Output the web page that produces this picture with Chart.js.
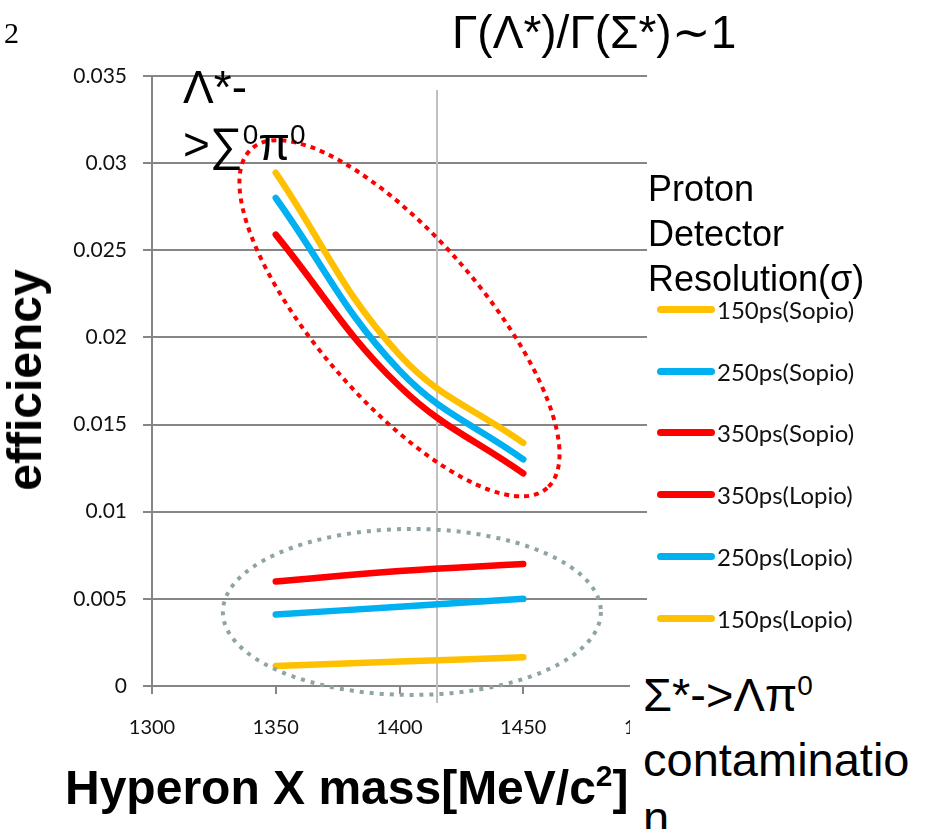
<!DOCTYPE html>
<html>
<head>
<meta charset="utf-8">
<script src="https://cdn.jsdelivr.net/npm/chart.js@4.4.0/dist/chart.umd.min.js"></script>
<style>
body { margin: 0; background: #fff; }
#wrap { position: relative; width: 932px; height: 829px; overflow: hidden; background: #fff; }
#c { position: absolute; left: 0; top: 0; }
.t { position: absolute; font-family: "Liberation Sans", Arial, sans-serif; color: #000; white-space: nowrap; }
.sup { position: relative; font-size: 28px; top: -16px; }
.leg { position: absolute; left: 657px; height: 30px; display: flex; align-items: center; }
.leg i { display: block; width: 58px; height: 7px; border-radius: 3.5px; margin-right: 2px; }
.leg span { font-family: Lato, "Open Sans", sans-serif; font-size: 24px; color: #111; }
</style>
</head>
<body>
<div id="wrap">
  <canvas id="c" width="932" height="829"></canvas>

  <div class="t" style="left:4px;top:18px;font-family:'Liberation Serif',serif;font-size:30px;line-height:30px;">2</div>
  <div class="t" style="left:452px;top:9px;font-size:46px;line-height:46px;">Γ(Λ*)/Γ(Σ*)∼1</div>

  <div class="t" style="left:183px;top:64px;font-size:46px;line-height:46px;">Λ*-</div>
  <div class="t" style="left:183px;top:121px;font-size:46px;line-height:46px;">&gt;∑<span class="sup">0</span>π<span class="sup">0</span></div>

  <div class="t" style="left:25px;top:380px;font-size:48px;line-height:48px;font-weight:bold;transform:translate(-50%,-50%) rotate(-90deg);">efficiency</div>
  <div class="t" style="left:65px;top:764px;font-size:48px;line-height:48px;font-weight:bold;">Hyperon X mass[MeV/c<span style="position:relative;font-size:30px;top:-18px;">2</span>]</div>

  <div class="t" style="left:648px;top:166px;font-size:36px;line-height:45px;">Proton<br>Detector<br>Resolution(σ)</div>
  <div id="legend"></div>

  <div class="t" style="left:630px;top:666px;width:302px;height:163px;background:#fff;padding-left:13px;font-size:47px;line-height:58px;box-sizing:border-box;">Σ*-&gt;Λπ<span class="sup">0</span><br>contaminatio<br>n</div>
</div>

<script>
// hyperon mass points (MeV/c^2)
const masses = [1350, 1400, 1450];

// Lambda* -> Sigma0 pi0 efficiency
const sopio150 = [0.02945, 0.0190, 0.01395];
const sopio250 = [0.0280, 0.0181, 0.0130];
const sopio350 = [0.0259, 0.0172, 0.0122];

// Sigma* -> Lambda pi0 contamination
const lopio350 = [0.0060, 0.0066, 0.0070];
const lopio250 = [0.0041, 0.00455, 0.0050];
const lopio150 = [0.00115, 0.0014, 0.00165];

const seriesNames = ["150ps(Sopio)", "250ps(Sopio)", "350ps(Sopio)", "350ps(Lopio)", "250ps(Lopio)", "150ps(Lopio)"];
const seriesValues = [sopio150, sopio250, sopio350, lopio350, lopio250, lopio150];
const seriesColors = ["#FFC000", "#00B0F0", "#FF0000", "#FF0000", "#00B0F0", "#FFC000"];

const xTicks = [1300, 1350, 1400, 1450, 1500];
const yTicks = [0, 0.005, 0.01, 0.015, 0.02, 0.025, 0.03, 0.035];

// marker line and the two dotted rings (centre in data units, radii in px)
const markerMass = 1415;
const rings = [
    { x: 1400, y: 0.0211, rx: 225, ry: 82, angle: 49, color: "#FF0000", dash: [5, 5] },
    { x: 1405, y: 0.00425, rx: 189, ry: 83, angle: 0, color: "#8FA5A5", dash: [4, 6] }
];

let datasets = [];
for (let i = 0; i < seriesNames.length; i++) {
    datasets.push({
        label: seriesNames[i],
        data: masses.map((m, j) => ({ x: m, y: seriesValues[i][j] })),
        borderColor: seriesColors[i],
        backgroundColor: seriesColors[i]
    });
}

const marks = {
    id: "marks",
    beforeDatasetsDraw(chart) {
        let ctx = chart.ctx, xs = chart.scales.x, ys = chart.scales.y;
        let px = Math.round(xs.getPixelForValue(markerMass));
        ctx.save();
        ctx.strokeStyle = "#C0C0C0";
        ctx.lineWidth = 2;
        ctx.beginPath();
        ctx.moveTo(px, ys.getPixelForValue(0.0342));
        ctx.lineTo(px, chart.chartArea.bottom + 17);
        ctx.stroke();
        ctx.restore();
    },
    afterDatasetsDraw(chart) {
        let ctx = chart.ctx, xs = chart.scales.x, ys = chart.scales.y;
        rings.forEach(r => {
            ctx.save();
            ctx.strokeStyle = r.color;
            ctx.lineWidth = 4;
            ctx.setLineDash(r.dash);
            ctx.beginPath();
            ctx.ellipse(xs.getPixelForValue(r.x), ys.getPixelForValue(r.y), r.rx, r.ry, r.angle * Math.PI / 180, 0, Math.PI * 2);
            ctx.stroke();
            ctx.restore();
        });
    }
};

const chart = new Chart(document.getElementById("c"), {
    type: "line",
    data: { datasets: datasets },
    plugins: [marks],
    options: {
        responsive: false,
        animation: false,
        devicePixelRatio: 1,
        layout: { padding: { left: 0, top: 76, right: 285, bottom: 0 } },
        plugins: { legend: { display: false }, tooltip: { enabled: false } },
        elements: {
            point: { radius: 0 },
            line: { borderWidth: 6.5, borderCapStyle: "round", borderJoinStyle: "round", tension: 0.4 }
        },
        scales: {
            x: {
                type: "linear",
                min: 1300,
                max: 1500,
                afterFit: s => { s.height = 143; },
                afterBuildTicks: s => { s.ticks = xTicks.map(v => ({ value: v })); },
                grid: { drawOnChartArea: false, drawTicks: true, tickLength: 8, color: "#868686", lineWidth: 2 },
                border: { color: "#868686", width: 2 },
                ticks: {
                    padding: 22,
                    color: "#111",
                    maxRotation: 0,
                    autoSkip: false,
                    font: { family: "Lato", size: 20 },
                    callback: v => String(v)
                }
            },
            y: {
                min: 0,
                max: 0.035,
                afterFit: s => { s.width = 152; },
                afterBuildTicks: s => { s.ticks = yTicks.map(v => ({ value: v })); },
                grid: { color: "#868686", lineWidth: 2, tickLength: 9 },
                border: { color: "#868686", width: 2 },
                ticks: {
                    padding: 16,
                    color: "#111",
                    font: { family: "Lato", size: 21 },
                    callback: v => String(+v.toFixed(3))
                }
            }
        }
    }
});

// legend built from the datasets
let box = document.getElementById("legend");
chart.data.datasets.forEach((ds, i) => {
    let row = document.createElement("div");
    row.className = "leg";
    row.style.top = (309.5 + i * 61.7 - 15) + "px";
    let sw = document.createElement("i");
    sw.style.background = ds.borderColor;
    let tx = document.createElement("span");
    tx.textContent = ds.label;
    row.appendChild(sw);
    row.appendChild(tx);
    box.appendChild(row);
});
</script>
</body>
</html>
